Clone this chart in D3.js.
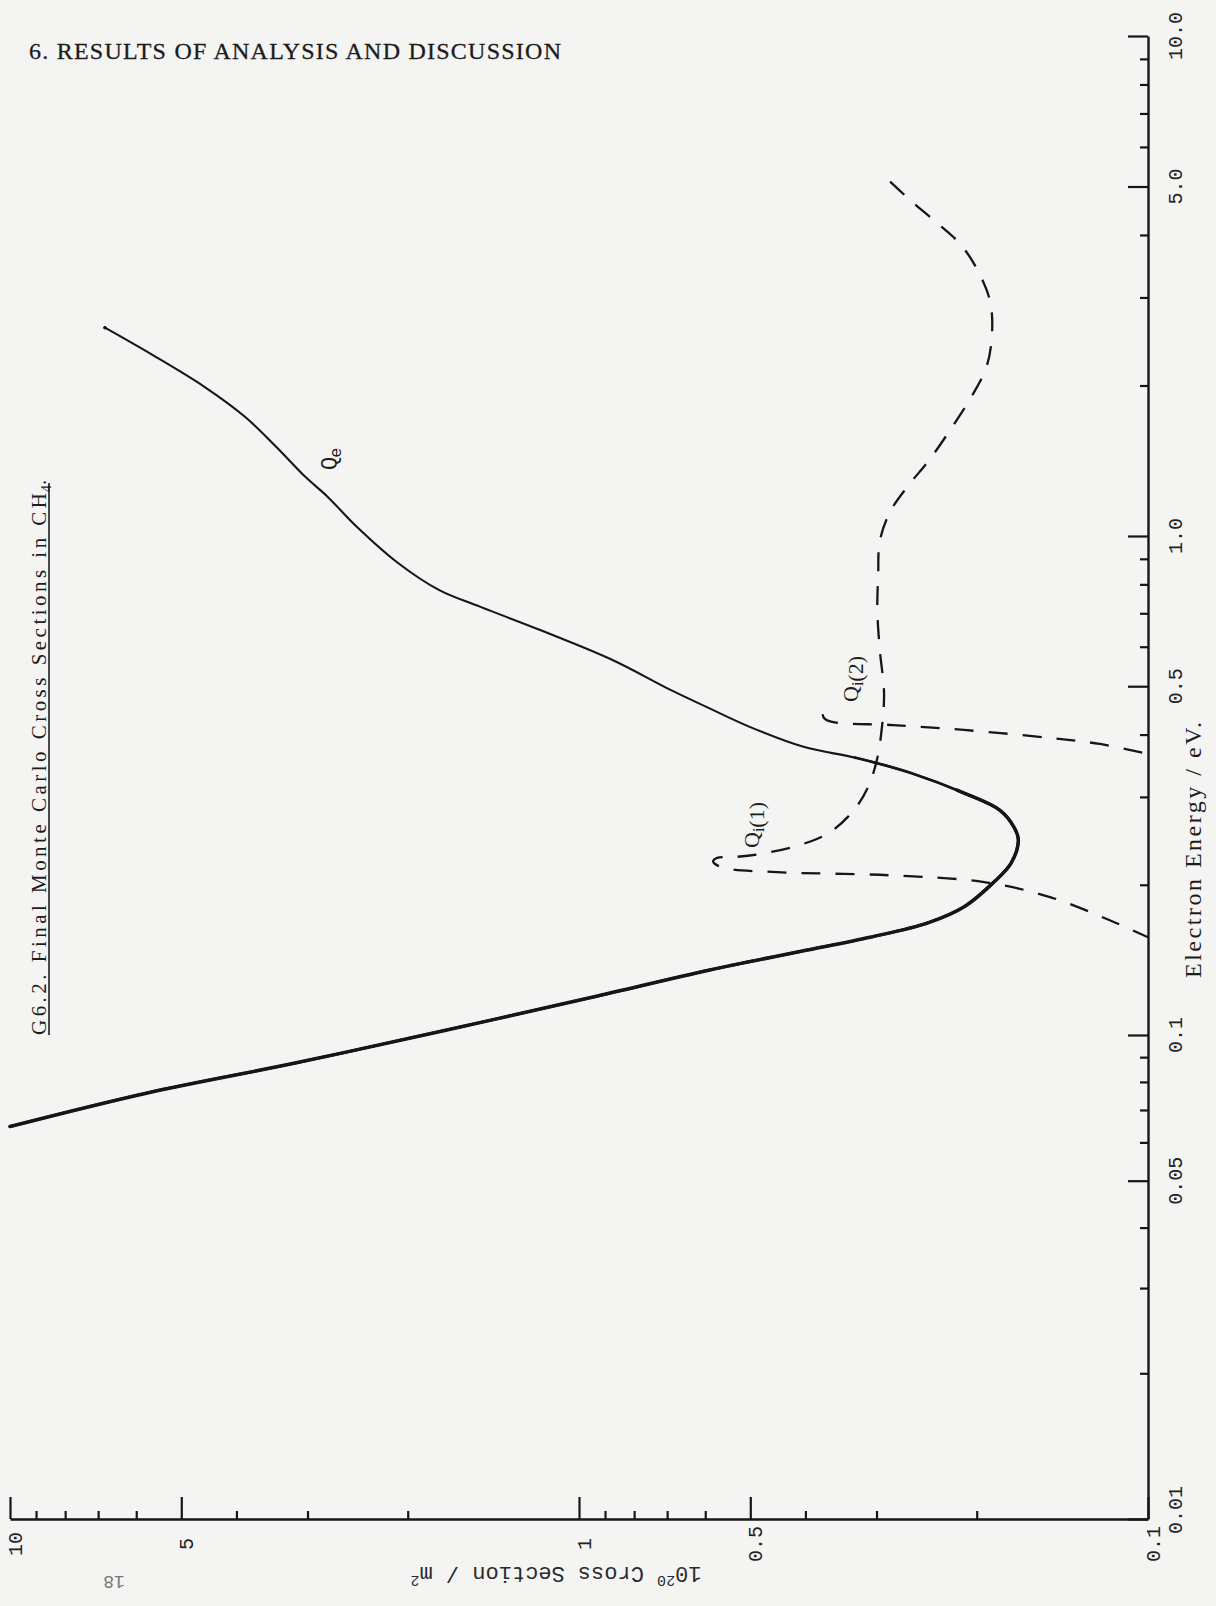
<!DOCTYPE html>
<html>
<head>
<meta charset="utf-8">
<script src="https://cdn.jsdelivr.net/npm/d3@7"></script>
<style>
  html, body { margin: 0; padding: 0; background: #f4f4f3; }
  svg { display: block; }
</style>
</head>
<body>
<svg id="chart" width="1216" height="1606"></svg>
<script>
// ---- Axis ticks -------------------------------------------------------
const energyMajor  = [0.01, 0.05, 0.1, 0.5, 1, 5, 10];
const energyLabels = ["0.01", "0.05", "0.1", "0.5", "1.0", "5.0", "10.0"];
const energyMinor  = [0.02, 0.03, 0.04, 0.06, 0.07, 0.08, 0.09,
                      0.2, 0.3, 0.4, 0.6, 0.7, 0.8, 0.9,
                      2, 3, 4, 6, 7, 8, 9];
const sectionMajor  = [10, 5, 1, 0.5, 0.1];
const sectionLabels = ["10", "5", "1", "0.5", "0.1"];
const sectionMinor  = [9, 8, 7, 6, 4, 3, 2, 0.9, 0.8, 0.7, 0.6, 0.4, 0.3, 0.2];

// ---- Q_e, momentum transfer cross section (eV, 1e-20 m^2) --------------
const qeEnergy  = [2.61, 2.30, 1.99, 1.73, 1.51, 1.31, 1.20, 1.04, 0.883, 0.779,
                   0.721, 0.648, 0.565, 0.491, 0.454, 0.414, 0.378, 0.359, 0.335, 0.305,
                   0.282, 0.261, 0.246, 0.221, 0.202, 0.181, 0.168, 0.157, 0.147, 0.135,
                   0.119, 0.102, 0.0876, 0.076, 0.0647];
const qeSection = [6.81, 5.61, 4.56, 3.86, 3.41, 3.02, 2.77, 2.45, 2.08, 1.76,
                   1.49, 1.17, 0.875, 0.689, 0.596, 0.50, 0.403, 0.325, 0.261, 0.210,
                   0.182, 0.172, 0.169, 0.174, 0.187, 0.210, 0.243, 0.308, 0.409, 0.589,
                   0.949, 1.73, 3.14, 5.71, 10];

// ---- Q_i(1), first vibrational cross section ----------------------------
const qi1Energy  = [0.157, 0.170, 0.189, 0.2025, 0.209, 0.212, 0.216, 0.221,
                    0.2233, 0.2264, 0.2274, 0.2305, 0.2404, 0.254, 0.282, 0.314,
                    0.356, 0.414, 0.4845, 0.591, 0.711, 0.832, 0.977, 1.117, 1.253,
                    1.426, 1.66, 1.923, 2.188, 2.535, 2.95, 3.42, 3.84, 4.23, 4.70, 5.27];
const qi1Section = [0.1, 0.117, 0.1487, 0.194, 0.286, 0.449, 0.554, 0.579,
                    0.581, 0.572, 0.532, 0.481, 0.409, 0.364, 0.329, 0.3105,
                    0.2995, 0.2935, 0.291, 0.296, 0.299, 0.298, 0.296, 0.284, 0.265,
                    0.2416, 0.2203, 0.203, 0.192, 0.188, 0.1895, 0.1998, 0.214, 0.235, 0.262, 0.292];
const qi1Peak = 7;   // index of the maximum, where the pen curls

// ---- Q_i(2), second vibrational cross section ---------------------------
const qi2Energy  = [0.366, 0.383, 0.394, 0.4086, 0.418, 0.424, 0.4318, 0.4418, 0.448];
const qi2Section = [0.1, 0.1215, 0.149, 0.2106, 0.2806, 0.359, 0.371, 0.3725, 0.365];
const qi2Peak = 5;

// ---- Scales (page is turned: energy runs up, cross section runs left) ---
const yE = d3.scaleLog().domain([0.01, 0.1, 1, 10]).range([1519, 1035, 536, 36]);
const xQ = d3.scaleLog().domain([10, 0.1]).range([10, 1148]);

const INK = "#161616";
const svg = d3.select("#chart");

const zip = (es, qs) => es.map((e, i) => ({ e, q: qs[i] }));
const line = d3.line()
  .x(d => xQ(d.q))
  .y(d => yE(d.e))
  .curve(d3.curveCatmullRom.alpha(0.5));

// ---- Page heading -----------------------------------------------------
svg.append("text")
  .attr("x", 29).attr("y", 59)
  .attr("font-family", "Liberation Serif, serif")
  .attr("font-size", 24)
  .attr("textLength", 532).attr("lengthAdjust", "spacing")
  .attr("fill", "#1c1c1c")
  .attr("stroke", "#1c1c1c").attr("stroke-width", 0.3)
  .text("6. RESULTS OF ANALYSIS AND DISCUSSION");

const plot = svg.append("g");

// ---- Energy axis (right side) -----------------------------------------
const eAxisX = xQ(0.1);
plot.append("g").attr("transform", `translate(${eAxisX},0)`)
  .call(d3.axisRight(yE).tickValues(energyMajor).tickSize(-20).tickSizeOuter(0).tickFormat(""));
const eMinor = plot.append("g").attr("transform", `translate(${eAxisX},0)`)
  .call(d3.axisRight(yE).tickValues(energyMinor).tickSize(-8).tickSizeOuter(0).tickFormat(""));
eMinor.select(".domain").remove();

// ---- Cross-section axis (bottom) --------------------------------------
const qAxisY = yE(0.01);
plot.append("g").attr("transform", `translate(0,${qAxisY})`)
  .call(d3.axisTop(xQ).tickValues(sectionMajor).tickSize(22).tickSizeOuter(0).tickFormat(""));
const qMinor = plot.append("g").attr("transform", `translate(0,${qAxisY})`)
  .call(d3.axisTop(xQ).tickValues(sectionMinor).tickSize(8).tickSizeOuter(0).tickFormat(""));
qMinor.select(".domain").remove();

plot.selectAll(".domain").attr("stroke", INK).attr("stroke-width", 2.4);
plot.selectAll(".tick line").attr("stroke", INK).attr("stroke-width", 2.2);

// tick labels, typed sideways
const tickFont = "Liberation Mono, monospace";
energyMajor.forEach((v, i) => {
  const y = v === 0.01 ? yE(v) - 9 : yE(v);
  plot.append("text")
    .attr("transform", `translate(1182,${y}) rotate(-90)`)
    .attr("text-anchor", "middle")
    .attr("font-family", tickFont).attr("font-size", 20)
    .attr("fill", "#222")
    .text(energyLabels[i]);
});
sectionMajor.forEach((v, i) => {
  plot.append("text")
    .attr("transform", `translate(${xQ(v) + 12},1544) rotate(-90)`)
    .attr("text-anchor", "middle")
    .attr("font-family", tickFont).attr("font-size", 20)
    .attr("fill", "#222")
    .text(sectionLabels[i]);
});

// energy axis title
plot.append("text")
  .attr("transform", "translate(1201,850) rotate(-90)")
  .attr("text-anchor", "middle")
  .attr("font-family", "Liberation Serif, serif").attr("font-size", 24)
  .attr("textLength", 256).attr("lengthAdjust", "spacing")
  .attr("fill", "#1c1c1c")
  .text("Electron Energy / eV.");

// cross-section axis title, typed upside down
const qTitle = plot.append("text")
  .attr("transform", "translate(556,1567) rotate(180)")
  .attr("text-anchor", "middle")
  .attr("font-family", "Liberation Mono, monospace").attr("font-size", 22)
  .attr("fill", "#2a2a2a");
qTitle.append("tspan").text("10");
qTitle.append("tspan").attr("font-size", 15).attr("dy", -9).text("20");
qTitle.append("tspan").attr("dy", 9).text(" Cross Section / m");
qTitle.append("tspan").attr("font-size", 15).attr("dy", -9).text("2");

// page number, also upside down
svg.append("text")
  .attr("transform", "translate(114,1576) rotate(180)")
  .attr("text-anchor", "middle")
  .attr("font-family", "Liberation Mono, monospace").attr("font-size", 18)
  .attr("fill", "#777")
  .text("18");

// ---- Figure caption along the left edge ---------------------------------
const capX = 46, capY = 1035, capMain = 542;
plot.append("text")
  .attr("transform", `translate(${capX},${capY}) rotate(-90)`)
  .attr("font-family", "Liberation Serif, serif").attr("font-size", 21)
  .attr("textLength", capMain).attr("lengthAdjust", "spacing")
  .attr("fill", "#1c1c1c")
  .text("G6.2. Final Monte Carlo Cross Sections in CH");
const capEnd = plot.append("text")
  .attr("transform", `translate(${capX},${capY - capMain - 1}) rotate(-90)`)
  .attr("font-family", "Liberation Serif, serif").attr("font-size", 21)
  .attr("fill", "#1c1c1c");
capEnd.append("tspan").attr("font-size", 14).attr("dy", 5).text("4");
capEnd.append("tspan").attr("dy", -5).text(".");
plot.append("line")
  .attr("x1", capX + 3).attr("x2", capX + 3)
  .attr("y1", capY).attr("y2", capY - capMain - 10)
  .attr("stroke", "#1c1c1c").attr("stroke-width", 1.6);

// ---- Curves -------------------------------------------------------------
const qe = zip(qeEnergy, qeSection);
const qePath = plot.append("path")
  .datum(qe)
  .attr("d", line)
  .attr("fill", "none").attr("stroke", INK)
  .attr("stroke-width", 2.1).attr("stroke-linejoin", "round").attr("stroke-linecap", "round");

// the pen presses harder on the lower branch: thicken it from the dip on
const node = qePath.node();
const total = node.getTotalLength();
function lengthWhereBelow(yLimit) {
  for (let s = 0; s <= total; s += 1) {
    if (node.getPointAtLength(s).y >= yLimit) return s;
  }
  return total;
}
[[yE(0.36), 2.8], [yE(0.31), 3.5]].forEach(([yLim, w]) => {
  const s = lengthWhereBelow(yLim);
  plot.append("path")
    .datum(qe)
    .attr("d", line)
    .attr("fill", "none").attr("stroke", INK)
    .attr("stroke-width", w).attr("stroke-linecap", "round")
    .attr("stroke-dasharray", `0 ${s} ${total} 0`);
});

// dashed vibrational curves; the dash phase is set so the curl at the
// peak falls on a stroke rather than in a gap
const DASH = 19, GAP = 15;
function lengthNear(pathNode, px, py) {
  const L = pathNode.getTotalLength();
  let best = 0, bestD = Infinity;
  for (let s = 0; s <= L; s += 0.5) {
    const p = pathNode.getPointAtLength(s);
    const d = (p.x - px) ** 2 + (p.y - py) ** 2;
    if (d < bestD) { bestD = d; best = s; }
  }
  return best;
}
[[zip(qi1Energy, qi1Section), qi1Peak], [zip(qi2Energy, qi2Section), qi2Peak]].forEach(([d, k]) => {
  const p = plot.append("path")
    .datum(d)
    .attr("d", line)
    .attr("fill", "none").attr("stroke", INK)
    .attr("stroke-width", 2.3);
  const sPeak = lengthNear(p.node(), xQ(d[k].q), yE(d[k].e));
  const period = DASH + GAP;
  const offset = ((-(sPeak - 6)) % period + period) % period;
  p.attr("stroke-dasharray", `${DASH} ${GAP}`).attr("stroke-dashoffset", offset);
});

// ---- Curve labels -------------------------------------------------------
const qeLab = plot.append("text")
  .attr("transform", "translate(336,470) rotate(-90)")
  .attr("font-family", "Liberation Mono, monospace").attr("font-size", 22)
  .attr("fill", "#1c1c1c");
qeLab.append("tspan").text("Q");
qeLab.append("tspan").attr("font-size", 17).attr("dy", 5).attr("dx", -1).text("e");

function viLabel(x, y, n) {
  const t = plot.append("text")
    .attr("transform", `translate(${x},${y}) rotate(-90)`)
    .attr("font-family", "Liberation Serif, serif").attr("font-size", 22)
    .attr("fill", "#1c1c1c");
  t.append("tspan").text("Q");
  t.append("tspan").attr("font-size", 16).attr("dy", 5).text("i");
  t.append("tspan").text(`(${n})`);
}
viLabel(759, 848, 1);
viLabel(858, 702, 2);
</script>
</body>
</html>
